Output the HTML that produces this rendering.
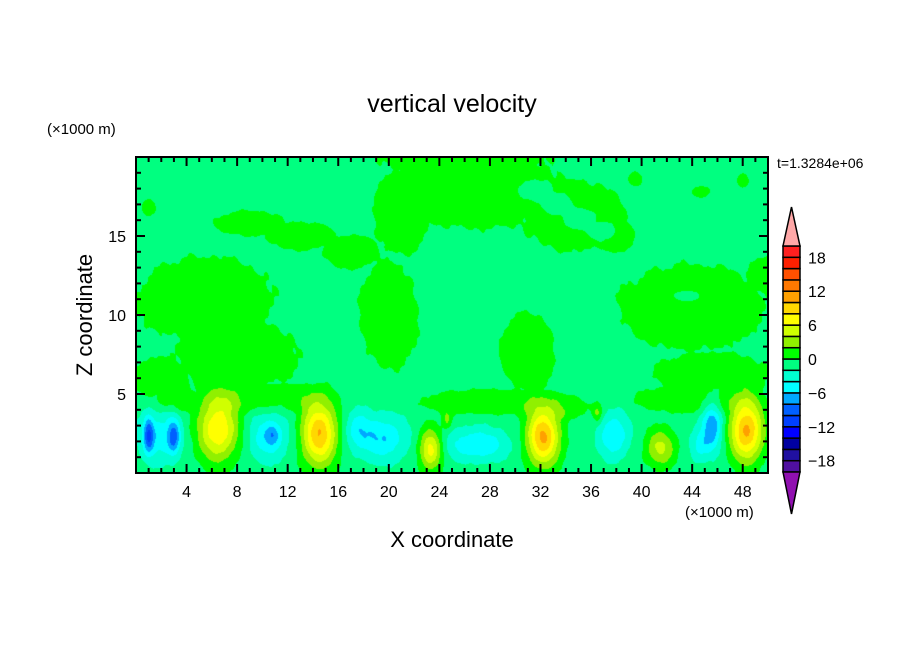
<!DOCTYPE html>
<html><head><meta charset="utf-8"><style>
body{margin:0;background:#fff;width:904px;height:654px;overflow:hidden;font-family:"Liberation Sans",sans-serif}
#wrap{position:relative;width:904px;height:654px}
canvas{position:absolute;left:136px;top:157px}
svg{position:absolute;left:0;top:0}
</style></head><body><div id="wrap">
<canvas id="cv" width="632" height="316"></canvas>
<svg id="sv" width="904" height="654"></svg>
</div>
<script>
// core blobs: x (km), z (km), amplitude (m/s)
const coreX=[6.5,14.5,23.3,32.2,48.3,41.5,36.5,24.6,1.0,3.0,10.8,10.5,19.5,27.0,37.8,45.6,17.5,44.6,1.8];
const coreZ=[2.8,2.5,1.5,2.3,2.7,1.6,3.8,3.4,2.4,2.3,2.4,2.3,2.2,1.8,2.4,3.0,2.8,1.8,2.3];
const coreA=[9,11,8,11.5,11.5,5.5,4,3.5,-6.8,-6.5,-3,-4.5,-5,-5,-5,-6.5,-3.5,-3.5,-4];
const coreSX=[1.6,1.4,0.9,1.3,1.3,1.2,0.4,0.4,0.4,0.5,0.5,1.6,1.9,2.4,1.2,0.8,1.0,0.8,1.6];
const coreSZ=[2.0,2.0,1.3,1.8,1.9,1.2,0.6,0.6,1.1,1.1,0.6,1.5,1.4,1.0,1.4,1.6,1.2,1.0,1.6];
// green (weak updraft) patches: center x, center z, radius x, radius z
const patchX=[5.5,8,2,9,13,17,20,27,21,34.5,38,44,50,45.5,31,10,28,44,39.5,44.7,48,1,34,3,26];
const patchZ=[11,7.5,6,15.8,15,14,10,18,16.5,16.3,15,10.5,12.5,6.3,7.8,4.8,4.5,4.7,18.6,17.8,18.5,16.8,4.2,4.6,20];
const patchRX=[6,5.5,2.5,3,3,2.5,2.6,7.5,2.5,4.5,1.5,6.5,2,5,2.4,5,6,5,0.6,0.8,0.5,0.6,2,2,7.5];
const patchRZ=[3,2.5,1.5,0.9,1,1.2,3.8,2.8,3,2.5,1.2,3,1.3,1.5,2.6,1,0.9,1,0.5,0.4,0.5,0.6,0.8,0.8,1.5];
// holes in patches
const holeX=[31.5,33.3,35.1,36.8,43.6];
const holeZ=[17.9,17.0,16.1,15.3,11.2];
const holeRX=[1.3,1.4,1.4,1.2,1.1];
const holeRZ=[0.7,0.75,0.75,0.6,0.35];
const levelColors=['#5010a0','#2010a0','#0000a0','#0000ff','#0040ff','#0060ff','#00a8ff','#00ffff','#00ffd0','#00ff80','#00ff00','#90f000','#d0ff00','#ffff00','#ffd800','#ffa000','#ff7800','#ff5000','#ff2000','#ff2020'];
const cbLabels=[18,12,6,0,-6,-12,-18];
const xTicks=[4,8,12,16,20,24,28,32,36,40,44,48];
const yTicks=[5,10,15];
const X0=136,X1=768,Y0=473,Y1=157,XMAX=50,ZMAX=20;
const sx=x=>X0+(X1-X0)*x/XMAX, sz=z=>Y0-(Y0-Y1)*z/ZMAX;
function field(x,z){
  let v=-1;
  const n=0.12*Math.sin(x*2.1+z*1.3)+0.1*Math.sin(x*3.7-z*2.9)+0.08*Math.sin(x*7.3+z*5.1);
  let p=0;
  for(let i=0;i<patchX.length;i++){const dx=(x-patchX[i])/patchRX[i],dz=(z-patchZ[i])/patchRZ[i];const r=dx*dx+dz*dz;p=Math.max(p,Math.exp(-r*r));}
  for(let i=0;i<holeX.length;i++){const dx=(x-holeX[i])/holeRX[i],dz=(z-holeZ[i])/holeRZ[i];const r=dx*dx+dz*dz;p*=1-Math.exp(-r*r);}
  v+=2*p+n;
  for(let i=0;i<coreX.length;i++){const dx=(x-coreX[i])/coreSX[i],dz=(z-coreZ[i])/coreSZ[i];v+=coreA[i]*Math.exp(-(dx*dx+dz*dz));}
  return v;
}
function hex(c){return [parseInt(c.slice(1,3),16),parseInt(c.slice(3,5),16),parseInt(c.slice(5,7),16)];}
const rgb=levelColors.map(hex);
const cv=document.getElementById('cv'),ctx=cv.getContext('2d');
const W=cv.width,H=cv.height,img=ctx.createImageData(W,H);
for(let j=0;j<H;j++)for(let i=0;i<W;i++){
  const x=(i+0.5)/W*XMAX,z=(H-j-0.5)/H*ZMAX;
  let k=Math.floor((field(x,z)+20)/2);k=Math.max(0,Math.min(19,k));
  const o=(j*W+i)*4,c=rgb[k];img.data[o]=c[0];img.data[o+1]=c[1];img.data[o+2]=c[2];img.data[o+3]=255;
}
ctx.putImageData(img,0,0);
const NS='http://www.w3.org/2000/svg',sv=document.getElementById('sv');
function el(t,a,txt){const e=document.createElementNS(NS,t);for(const k in a)e.setAttribute(k,a[k]);if(txt!==undefined)e.textContent=txt;sv.appendChild(e);return e;}
let e;
e=el('rect',{x:X0,y:Y1,width:X1-X0,height:Y0-Y1,fill:'none',stroke:'#000','stroke-width':2});


for(let t=1;t<XMAX;t++){const major=t%4===0;
  e=el('line',{x1:sx(t),x2:sx(t),y1:Y0,y2:Y0-(major?9:5),stroke:'#000','stroke-width':2});
  
  
  e=el('line',{x1:sx(t),x2:sx(t),y1:Y1,y2:Y1+(major?9:5),stroke:'#000','stroke-width':2});
  
  }
for(let t=1;t<ZMAX;t++){const major=t%5===0;
  e=el('line',{x1:X0,x2:X0+(major?9:5),y1:sz(t),y2:sz(t),stroke:'#000','stroke-width':2});
  
  
  e=el('line',{x1:X1,x2:X1-(major?9:5),y1:sz(t),y2:sz(t),stroke:'#000','stroke-width':2});
  
  }
xTicks.forEach(t=>{e=el('text',{x:sx(t),y:497,'font-size':16,'text-anchor':'middle'},String(t));
  
  });
yTicks.forEach(t=>{e=el('text',{x:126,y:sz(t)+6,'font-size':16,'text-anchor':'end'},String(t));
  
  });
// colorbar
const CBX=783,CBW=17,CBT=246,CBB=472,bh=(CBB-CBT)/20;
levelColors.forEach((c,i)=>{e=el('rect',{x:CBX,y:CBB-(i+1)*bh,width:CBW,height:bh,fill:c,stroke:'#000','stroke-width':1.5});
  
  });
e=el('polygon',{points:`${CBX},${CBT} ${CBX+CBW},${CBT} ${CBX+CBW/2},207`,fill:'#ffa8a8',stroke:'#000','stroke-width':1.5});


e=el('polygon',{points:`${CBX},${CBB} ${CBX+CBW},${CBB} ${CBX+CBW/2},514`,fill:'#9010b0',stroke:'#000','stroke-width':1.5});


cbLabels.forEach(v=>{const y=CBB-(v+20)/2*bh;e=el('text',{x:808,y:y+6,'font-size':16},v<0?'\u2212'+(-v):String(v));
  
  });
e=el('text',{x:452,y:112,'font-size':25,'text-anchor':'middle'},'vertical velocity');


e=el('text',{x:47,y:134,'font-size':15},'(\u00d71000 m)');


e=el('text',{x:685,y:517,'font-size':15},'(\u00d71000 m)');


e=el('text',{x:452,y:547,'font-size':22,'text-anchor':'middle'},'X coordinate');


e=el('text',{x:0,y:0,'font-size':22,'text-anchor':'middle',transform:'translate(92,315) rotate(-90)'},'Z coordinate');


e=el('text',{x:777,y:168,'font-size':14},'t=1.3284e+06');


</script></body></html>
